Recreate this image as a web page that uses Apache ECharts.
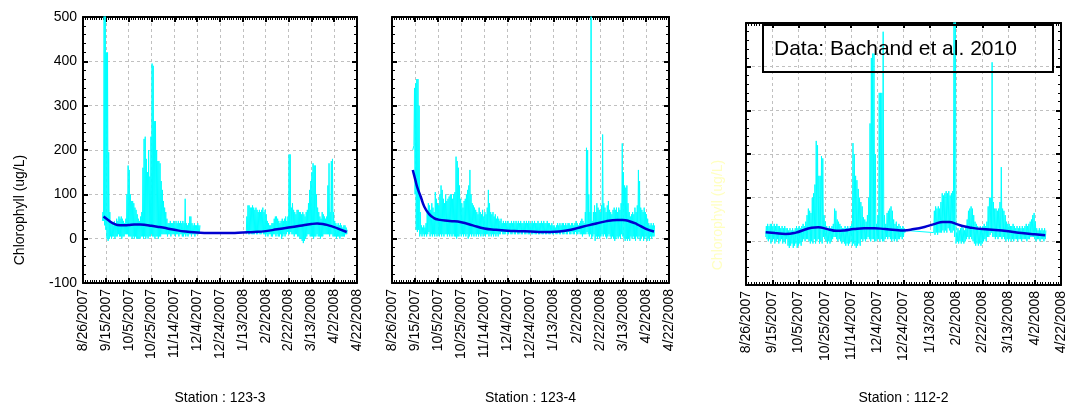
<!DOCTYPE html>
<html><head><meta charset="utf-8">
<script src="https://cdn.jsdelivr.net/npm/echarts@6.0.0/dist/echarts.min.js"></script>
<style>html,body{margin:0;padding:0;background:#fff}#c{width:1068px;height:408px}</style>
</head><body><div id="c"></div>
<script>
// x axis: day offset from 8/26/2007
const xTickLabels = ['8/26/2007','9/15/2007','10/5/2007','10/25/2007','11/14/2007','12/4/2007','12/24/2007','1/13/2008','2/2/2008','2/22/2008','3/13/2008','4/2/2008','4/22/2008'];
const stations = ['Station : 123-3','Station : 123-4','Station : 112-2'];

// Station 123-3: daily high / low of the raw record (ug/L)
const p1aStart = 17;
const p1aHi = [60,600,600,420,420,195,60,40,35,30, 40,35,45,40,50,45,50,45,40,35, 45,100,165,155,100,85,85,80,70,65, 55,45,40,50,60,160,225,230,180,150, 200,140,230,395,390,265,265,200,175,175, 170,130,110,85,70,60,45,35,35,40, 35,35,40,35,40,35,40,35,40,35, 40,35,90,35,30,35,50,50,35,30, 35,30,30,35,30,30];
const p1aLo = [40,40,30,20,0,-5,0,5,0,5, 5,0,5,5,10,5,5,0,5,5, 10,10,10,5,5,5,0,5,0,5, 0,0,0,0,5,5,0,5,0,5, 0,5,5,10,5,5,0,5,5,0, 5,5,10,10,10,10,10,5,10,10, 5,10,10,10,5,10,10,5,10,10, 5,5,10,5,10,5,10,10,5,10, 10,5,10,10,10,15];
const p1bStart = 143;
const p1bHi = [50,75,75,70,70,75,70,65,70,65, 60,65,60,65,70,60,65,55,40,35, 30,30,35,35,45,50,50,45,40,35, 40,45,40,45,50,40,50,190,190,70, 80,65,60,55,65,65,60,60,55,60, 55,50,60,65,80,110,130,150,170,165, 165,100,70,60,50,45,60,55,50,45, 50,120,170,60,175,180,60,40,35,30, 35,30,35,30,25,30,30,25,20];
const p1bLo = [10,15,10,10,15,10,10,10,15,10, 10,15,10,10,15,10,10,5,10,5, 10,10,5,5,10,10,5,10,5,5, 10,0,5,10,5,10,15,10,10,15, 10,10,5,10,10,5,5,0,0,-5, -10,-5,0,5,10,10,5,5,5,0, 5,5,10,5,5,0,5,5,10,10, 10,10,10,5,10,10,5,5,5,0, 5,5,0,5,5,5,5,10,10];
// Station 123-4
const p2Start = 18;
const p2Hi = [200,340,350,360,360,300,60,30,25,30, 25,35,60,80,75,65,80,70,60,105, 90,80,75,100,120,110,90,80,100,85, 90,95,100,100,90,100,105,185,175,160, 120,90,80,70,85,90,100,110,120,155, 100,80,75,70,65,60,55,70,60,55, 65,50,60,55,70,110,80,60,55,60, 50,55,45,50,45,40,45,35,40,35, 40,35,40,35,35,40,35,40,35,40, 35,40,35,40,35,35,40,35,40,35, 40,35,35,40,35,40,35,35,40,35, 35,40,35,40,35,35,40,35,35,30, 35,30,30,25,30,35,30,35,30,35, 35,30,35,30,35,35,30,35,35,30, 35,40,35,30,35,40,45,40,35,60, 205,200,100,60,600,40,60,75,60,80, 70,65,60,75,235,80,70,60,75,85, 65,60,55,65,70,65,70,60,70,65, 80,215,150,120,115,120,80,60,50,55, 60,55,70,60,75,155,130,70,65,60, 70,60,55,45,35,30,35,30,35,30];
const p2Lo = [200,210,100,20,15,20,5,10,5,10, 5,10,5,10,15,5,10,5,10,5, 10,5,10,5,10,5,10,5,10,10, 5,10,5,10,5,10,5,5,0,5, 5,10,5,10,5,10,5,10,0,5, 10,5,10,5,10,5,10,5,10,5, 10,5,10,5,10,10,5,10,5,10, 5,10,5,10,5,10,10,15,10,10, 10,15,10,10,15,10,10,15,10,10, 15,10,10,15,10,10,15,10,10,15, 10,10,15,10,10,15,10,10,15,10, 10,15,10,10,15,10,10,15,10,10, 15,10,10,15,10,10,15,10,10,15, 10,10,15,10,10,15,10,10,15,10, 10,15,10,10,15,10,10,5,10,10, 10,15,10,5,10,0,5,10,-5,5, 0,5,0,5,10,5,10,5,0,5, 10,5,0,5,0,-5,0,5,0,5, 0,10,5,0,-5,0,-5,0,-5,5, 0,5,0,-5,5,0,5,-5,0,5, -5,0,5,-5,0,-5,5,0,5,5];
// Station 112-2
const p3aStart = 15;
const p3aHi = [35,40,35,40,40,35,40,35,40,35, 35,30,35,30,35,30,30,25,30,25, 30,25,30,35,30,35,30,35,40,35, 45,60,75,70,65,100,110,130,230,220, 150,150,195,190,60,45,35,30,35,30, 35,40,75,70,50,45,40,35,30,30, 35,30,35,30,35,40,225,200,150,140, 120,100,90,80,55,50,45,60,100,270, 420,430,430,200,40,60,340,340,340,480, 60,40,65,70,75,80,70,50,40,45, 35,40,35,30,35,30,25];
const p3aLo = [10,5,0,5,-5,0,5,-5,0,5, -5,0,5,-5,0,-5,5,-10,-15,-10, -5,-15,-10,-5,-15,-10,-5,-10,0,5, 0,5,5,0,-5,0,-5,5,-5,0, 5,-5,0,-5,10,5,0,-5,0,-5, 0,5,10,10,5,0,5,0,-5,0, -5,-10,-5,-10,-5,0,-10,-5,-10,-15, -10,-5,-10,5,0,5,0,5,10,5, 0,5,5,0,0,5,5,0,5,0, 0,5,10,5,10,5,0,5,0,5, 0,5,5,10,5,10,20];
const p3bStart = 143;
const p3bHi = [70,80,75,80,75,90,110,105,110,115, 110,115,105,110,115,600,600,20,30,25, 30,35,30,25,35,50,70,75,80,75, 60,45,40,35,30,35,30,35,40,35, 45,80,100,100,410,90,75,75,70,75, 90,170,75,70,60,45,40,40,35,35, 40,35,30,35,30,35,30,35,30,35, 40,35,40,45,50,60,65,45,30,25, 30,25,30,25,30,25];
const p3bLo = [20,15,20,15,20,20,20,25,20,25, 20,30,25,20,20,25,10,-5,0,-5, 0,-5,0,-5,0,5,10,5,10,5, 0,-5,-10,-5,-10,-5,-10,-5,0,5, 0,10,10,15,20,10,10,5,10,5, 10,10,5,10,5,0,5,0,5,0, 5,0,5,5,0,5,5,0,5,5, 5,0,5,5,10,10,10,5,0,5, 5,0,5,5,0,5];

// Smoothed trend lines
const p1TrendDay = [18,22,26,30,35,40,45,50,55,60,65,70,80,90,100,110,120,130,140,150,160,170,180,190,200,205,210,215,220,225,231];
const p1TrendVal = [50,42,35,31,30,31,32,32,31,29,27,25,20,16,14,13,13,13,14,15,17,21,25,29,33,34,33,30,26,21,15];
const p2TrendDay = [18,20,22,25,28,32,36,40,50,60,70,80,90,100,110,120,130,137,145,155,165,175,185,195,200,205,212,220,227];
const p2TrendVal = [155,135,115,94,72,56,47,43,40,37,30,23,20,18,17,16,15,15,16,20,27,33,39,42,42,40,33,22,16];
const p3TrendDay = [15,22,30,38,45,50,55,62,69,75,82,90,98,106,114,120,128,136,144,150,155,160,165,172,180,190,200,210,220,228];
const p3TrendVal = [21,19,17,20,27,31,32,28,24,25,28,30,30,28,26,25,28,33,40,44,44,40,35,31,28,26,23,19,16,14];

const yTicks = {min: -100, max: 500, interval: 100};
const FONT = 'Liberation Sans, Arial, sans-serif';

// segs: [startDay, hi[], lo[]]; breakGap: whether to leave the data gap open
function band(segs, breakGap) {
  const out = [];
  segs.forEach(([start, hi, lo], k) => {
    if (k > 0 && breakGap) out.push([start - 1, null]);
    for (let i = 0; i < hi.length; i++) {
      const d = start + i;
      out.push([d, lo[i]]);
      out.push([d + 0.5, hi[i]]);
    }
  });
  return out;
}
function trend(days, vals) { return days.map((d, i) => [d, vals[i]]); }

const grids = [
  {left: 83, top: 17, width: 274, height: 266},
  {left: 392, top: 17, width: 277, height: 266},
  {left: 746, top: 23, width: 315, height: 262}
];
const axLine = {show: true, onZero: false, lineStyle: {color: '#000', width: 2}};
const tick = {show: true, inside: true, length: 5, lineStyle: {color: '#000', width: 2}};
const split = {show: true, lineStyle: {color: '#c0c0c0', type: [3, 3], width: 1}};

const xAxis = [], yAxis = [];
grids.forEach((g, i) => {
  const xBase = {type: 'value', gridIndex: i, min: 0, max: 240, interval: 20, axisLine: axLine, axisTick: tick,
    minorTick: {show: true, splitNumber: 10, length: 3, lineStyle: {color: '#000', width: 1}}};
  xAxis.push(Object.assign({}, xBase, {position: 'bottom', splitLine: split,
    axisLabel: {rotate: 90, fontSize: 14, fontFamily: FONT, color: '#000', margin: 6,
      formatter: v => xTickLabels[Math.round(v / 20)]}}));
  xAxis.push(Object.assign({}, xBase, {position: 'top', splitLine: {show: false}, axisLabel: {show: false}}));
  const yBase = {type: 'value', gridIndex: i, min: yTicks.min, max: yTicks.max, interval: yTicks.interval,
    axisLine: axLine, axisTick: tick,
    minorTick: {show: true, splitNumber: 5, length: 3, lineStyle: {color: '#000', width: 1}}};
  yAxis.push(Object.assign({}, yBase, {position: 'left', splitLine: split,
    axisLabel: {show: i === 0, fontSize: 14, fontFamily: FONT, color: '#000', margin: 6}}));
  yAxis.push(Object.assign({}, yBase, {position: 'right', splitLine: {show: false}, axisLabel: {show: false}}));
});

const raw = [
  band([[p1aStart, p1aHi, p1aLo], [p1bStart, p1bHi, p1bLo]], true),
  band([[p2Start, p2Hi, p2Lo]], false),
  band([[p3aStart, p3aHi, p3aLo], [p3bStart, p3bHi, p3bLo]], false)
];
const trends = [trend(p1TrendDay, p1TrendVal), trend(p2TrendDay, p2TrendVal), trend(p3TrendDay, p3TrendVal)];

const series = [];
for (let i = 0; i < 3; i++) {
  series.push({type: 'line', xAxisIndex: i * 2, yAxisIndex: i * 2, data: raw[i], showSymbol: false, symbol: 'none',
    connectNulls: false, lineStyle: {color: '#00ffff', width: 1}, clip: true, z: 2, animation: false});
  series.push({type: 'line', xAxisIndex: i * 2, yAxisIndex: i * 2, data: trends[i], showSymbol: false, symbol: 'none',
    smooth: 0.5, lineStyle: {color: '#0000d0', width: 2.5}, clip: true, z: 3, animation: false});
}

const centers = grids.map(g => g.left + g.width / 2);
const graphic = [
  {type: 'text', x: 20, y: 210, rotation: Math.PI / 2, style: {text: 'Chlorophyll (ug/L)', font: '14px ' + FONT, fill: '#000', align: 'center', verticalAlign: 'middle'}},
  {type: 'text', x: 718, y: 215, rotation: Math.PI / 2, style: {text: 'Chlorophyll (ug/L)', font: '14px ' + FONT, fill: '#ffffc0', align: 'center', verticalAlign: 'middle'}},
  {type: 'rect', shape: {x: 763, y: 25, width: 290, height: 47}, style: {fill: 'none', stroke: '#000', lineWidth: 2}, z: 10},
  {type: 'text', x: 774, y: 49, style: {text: 'Data: Bachand et al. 2010', font: '21px ' + FONT, fill: '#000', align: 'left', verticalAlign: 'middle'}, z: 10}
].concat(stations.map((s, i) => ({type: 'text', x: centers[i], y: 398,
  style: {text: s, font: '14px ' + FONT, fill: '#000', align: 'center', verticalAlign: 'middle'}})));

const chart = echarts.init(document.getElementById('c'), null, {renderer: 'canvas'});
chart.setOption({animation: false, backgroundColor: '#fff', grid: grids, xAxis, yAxis, series, graphic});
</script></body></html>
